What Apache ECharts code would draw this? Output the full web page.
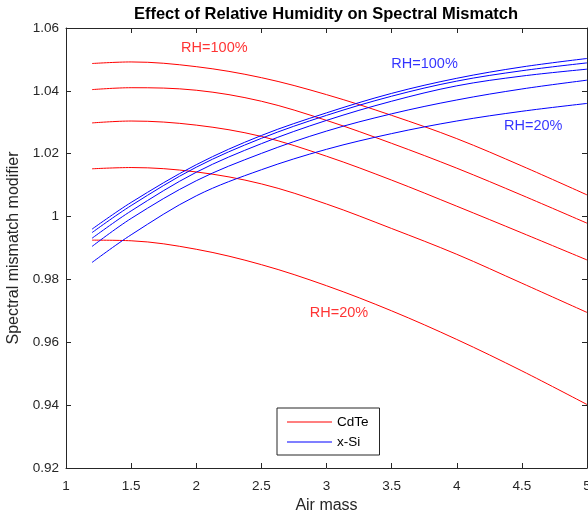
<!DOCTYPE html>
<html>
<head>
<meta charset="utf-8">
<style>
    html, body { margin: 0; padding: 0; background: #ffffff; }
    /* chart size */
    #chart { width: 588px; height: 518px; }
</style>
<script src="https://cdn.jsdelivr.net/npm/echarts@6/dist/echarts.min.js"></script>
</head>
<body>
<div id="chart"></div>
<script>
    // air mass values (x axis)
    var airMass = [1.2, 1.5, 2, 2.5, 3, 3.5, 4, 4.5, 5];

    // CdTe spectral mismatch, RH = 20% .. 100%
    var cdteRH20  = [0.9925, 0.9923, 0.9896, 0.9847, 0.9780, 0.9700, 0.9609, 0.9509, 0.9402];
    var cdteRH40  = [1.0152, 1.0156, 1.0142, 1.0104, 1.0040, 0.9962, 0.9880, 0.9788, 0.9695];
    var cdteRH60  = [1.0298, 1.0304, 1.0291, 1.0255, 1.0192, 1.0116, 1.0033, 0.9948, 0.9862];
    var cdteRH80  = [1.0404, 1.0410, 1.0402, 1.0367, 1.0306, 1.0233, 1.0154, 1.0068, 0.9979];
    var cdteRH100 = [1.0487, 1.0492, 1.0477, 1.0442, 1.0388, 1.0322, 1.0248, 1.0161, 1.0069];

    // x-Si spectral mismatch, RH = 20% .. 100%
    var xsiRH20  = [0.9854, 0.9942, 1.0066, 1.0149, 1.0214, 1.0264, 1.0304, 1.0335, 1.0360];
    var xsiRH40  = [0.9905, 0.9994, 1.0114, 1.0201, 1.0272, 1.0327, 1.0371, 1.0406, 1.0434];
    var xsiRH60  = [0.9931, 1.0018, 1.0141, 1.0232, 1.0306, 1.0367, 1.0416, 1.0447, 1.0469];
    var xsiRH80  = [0.9949, 1.0035, 1.0157, 1.0249, 1.0322, 1.0383, 1.0431, 1.0464, 1.0489];
    var xsiRH100 = [0.9960, 1.0045, 1.0165, 1.0258, 1.0330, 1.0392, 1.0440, 1.0476, 1.0503];

    // text annotations (data coordinates)
    var redNotes  = [[2.139, 1.0535, 'RH=100%'], [3.096, 0.9694, 'RH=20%']];
    var blueNotes = [[3.753, 1.0484, 'RH=100%'], [4.587, 1.0289, 'RH=20%']];

    var FONT = 'Liberation Sans, Arial, Helvetica, sans-serif';
    var AXIS_COLOR = '#262626';

    function pairs(ys) {
        return airMass.map(function (x, i) { return [x, ys[i]]; });
    }

    function curve(name, color, ys) {
        return {
            name: name,
            type: 'line',
            data: pairs(ys),
            smooth: 0.35,
            symbol: 'none',
            silent: true,
            lineStyle: { color: color, width: 1 },
            itemStyle: { color: color }
        };
    }

    function notes(color, list) {
        return {
            type: 'scatter',
            data: list,
            symbolSize: 0,
            silent: true,
            label: {
                show: true,
                position: 'inside',
                color: color,
                fontFamily: FONT,
                fontSize: 14.5,
                formatter: function (p) { return p.value[2]; }
            }
        };
    }

    var myChart = echarts.init(document.getElementById('chart'));

    var option = {
        backgroundColor: '#ffffff',
        animation: false,
        title: {
            text: 'Effect of Relative Humidity on Spectral Mismatch',
            left: 326,
            top: 6,
            padding: 0,
            textAlign: 'center',
            textStyle: {
                fontFamily: FONT,
                fontSize: 16.5,
                fontWeight: 'bold',
                color: '#000000'
            }
        },
        legend: {
            data: ['CdTe', 'x-Si'],
            orient: 'vertical',
            left: 277,
            top: 408,
            padding: [7, 11, 6, 10],
            itemGap: 6,
            icon: 'rect',
            itemWidth: 45,
            itemHeight: 1,
            borderColor: AXIS_COLOR,
            borderWidth: 1,
            borderRadius: 0,
            backgroundColor: '#ffffff',
            textStyle: { fontFamily: FONT, fontSize: 13.5, color: '#000000', lineHeight: 13 }
        },
        grid: { left: 66, right: 1, top: 28, bottom: 50, outerBoundsMode: 'none', containLabel: false },
        xAxis: [{
            type: 'value',
            min: 1,
            max: 5,
            interval: 0.5,
            name: 'Air mass',
            nameLocation: 'middle',
            nameGap: 26,
            nameTextStyle: { fontFamily: FONT, fontSize: 16, color: AXIS_COLOR },
            axisLine: { lineStyle: { color: AXIS_COLOR, width: 1 } },
            axisTick: { inside: true, length: 5, lineStyle: { color: AXIS_COLOR } },
            axisLabel: { margin: 11, fontFamily: FONT, fontSize: 13.5, color: AXIS_COLOR },
            splitLine: { show: false }
        }, {
            type: 'value',
            position: 'top',
            min: 1,
            max: 5,
            interval: 0.5,
            axisLine: { show: true, lineStyle: { color: AXIS_COLOR, width: 1 } },
            axisTick: { show: true, inside: true, length: 5, lineStyle: { color: AXIS_COLOR } },
            axisLabel: { show: false },
            splitLine: { show: false }
        }],
        yAxis: [{
            type: 'value',
            min: 0.92,
            max: 1.06,
            interval: 0.02,
            name: 'Spectral mismatch modifier',
            nameLocation: 'middle',
            nameGap: 38,
            nameTextStyle: { fontFamily: FONT, fontSize: 16, color: AXIS_COLOR },
            axisLine: { show: true, lineStyle: { color: AXIS_COLOR, width: 1 } },
            axisTick: { show: true, inside: true, length: 5, lineStyle: { color: AXIS_COLOR } },
            axisLabel: {
                margin: 7,
                fontFamily: FONT,
                fontSize: 13.5,
                color: AXIS_COLOR,
                formatter: function (v) { return String(Math.round(v * 100) / 100); }
            },
            splitLine: { show: false }
        }, {
            type: 'value',
            position: 'right',
            min: 0.92,
            max: 1.06,
            interval: 0.02,
            axisLine: { show: true, lineStyle: { color: AXIS_COLOR, width: 1 } },
            axisTick: { show: true, inside: true, length: 5, lineStyle: { color: AXIS_COLOR } },
            axisLabel: { show: false },
            splitLine: { show: false }
        }],
        series: [
            curve('CdTe', '#ff0000', cdteRH20),
            curve('CdTe', '#ff0000', cdteRH40),
            curve('CdTe', '#ff0000', cdteRH60),
            curve('CdTe', '#ff0000', cdteRH80),
            curve('CdTe', '#ff0000', cdteRH100),
            curve('x-Si', '#0000ff', xsiRH20),
            curve('x-Si', '#0000ff', xsiRH40),
            curve('x-Si', '#0000ff', xsiRH60),
            curve('x-Si', '#0000ff', xsiRH80),
            curve('x-Si', '#0000ff', xsiRH100),
            notes('#ff0000', redNotes),
            notes('#0000ff', blueNotes)
        ]
    };

    myChart.setOption(option);
</script>
</body>
</html>
